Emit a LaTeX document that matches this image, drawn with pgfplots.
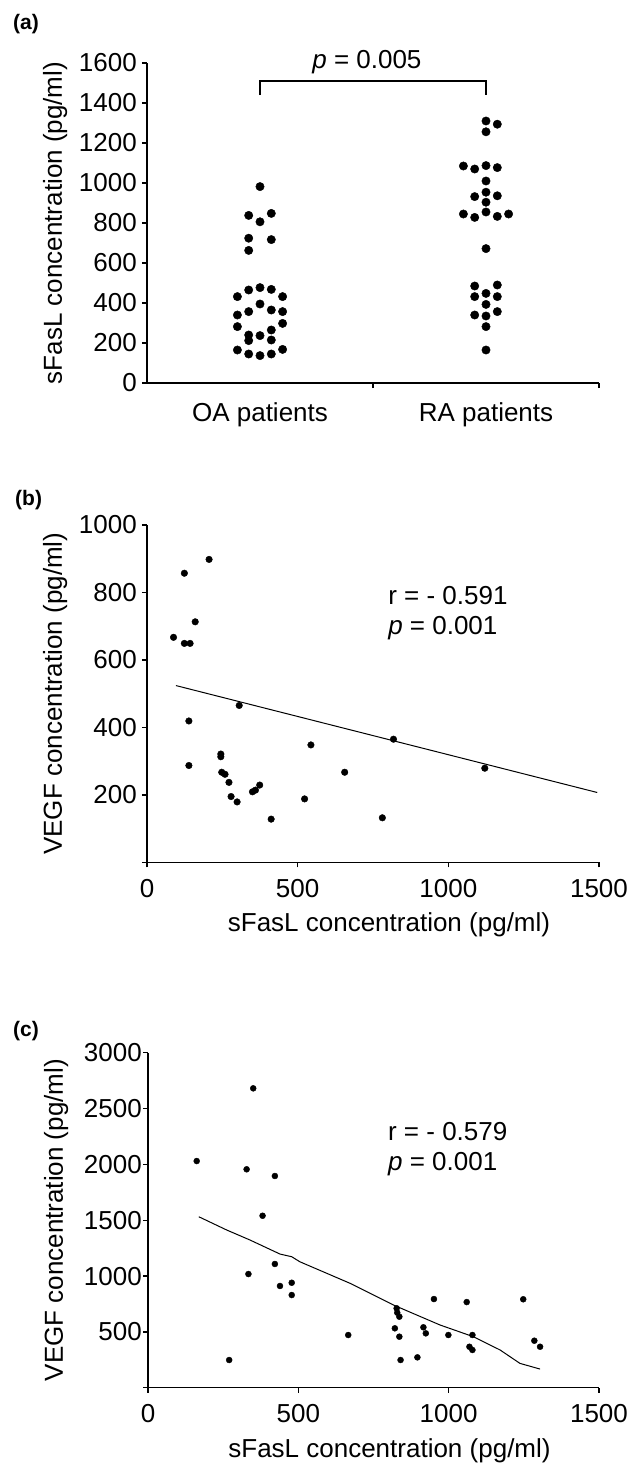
\documentclass[border=0pt]{standalone}
\usepackage{fontspec}
\setmainfont{Liberation Sans}
\usepackage{pgfplots}
\pgfplotsset{compat=1.18}
\newcommand{\lbl}{\fontsize{26}{30}\selectfont}
\begin{document}
\begin{tikzpicture}
\useasboundingbox (0pt,0pt) rectangle (634pt,-1464pt);
\pgfplotsset{
  panel/.style={
    scale only axis, anchor=south west,
    axis lines=left, axis line style={-, line width=1.4pt},
    tick align=outside, major tick length=5pt,
    tick style={line width=1.4pt, black},
    tick label style={font=\lbl},
    /pgf/number format/assume math mode=true,
    /pgf/number format/1000 sep={},
    scaled ticks=false, clip=false,
    xticklabel style={inner sep=0pt, anchor=base, yshift=-30pt},
    yticklabel style={inner sep=0pt, anchor=east, xshift=-5pt},
    every axis y label/.style={at={([xshift=-85pt]axis description cs:0,0.5)},
      rotate=90, anchor=base, font=\lbl},
    every axis x label/.style={at={([xshift=16pt,yshift=-69.4pt]axis description cs:0.5,0)},
      anchor=base, font=\lbl},
  },
  dots/.style={only marks, mark=*, mark size=#1, black},
}
\node[anchor=base west, inner sep=0, font=\bfseries\fontsize{21}{24}\selectfont] at (13pt,-30pt) {(a)};
\node[anchor=base west, inner sep=0, font=\bfseries\fontsize{21}{24}\selectfont] at (15pt,-505pt) {(b)};
\node[anchor=base west, inner sep=0, font=\bfseries\fontsize{21}{24}\selectfont] at (13pt,-1036pt) {(c)};

% (a) sFasL in OA and RA patients
\begin{axis}[panel, at={(147pt,-383pt)}, width=452pt, height=320pt,
  xmin=0, xmax=2, ymin=0, ymax=1600, ytick={0,200,...,1600},
  xtick={1,2}, xticklabels={},
  extra x ticks={0.5,1.5}, extra x tick labels={OA patients,RA patients},
  extra x tick style={major tick length=0pt, xticklabel style={yshift=-8pt}},
  ylabel={sFasL concentration (pg/ml)}]
\addplot[dots=4.2pt] coordinates {
  (0.50,982)
  (0.45,838) (0.55,848)
  (0.50,806)
  (0.45,724) (0.55,717)
  (0.45,663)
  (0.40,432) (0.45,465) (0.50,477) (0.55,468) (0.60,432)
  (0.50,395)
  (0.40,340) (0.45,357) (0.55,365) (0.60,357)
  (0.40,282) (0.60,298)
  (0.45,240) (0.55,265)
  (0.50,237)
  (0.45,212) (0.55,215)
  (0.40,165) (0.45,145) (0.50,137) (0.55,145) (0.60,168)
};
\addplot[dots=4.2pt] coordinates {
  (1.50,1310) (1.55,1294)
  (1.50,1256)
  (1.40,1085) (1.45,1070) (1.50,1087) (1.55,1077)
  (1.50,1010)
  (1.45,932) (1.50,954) (1.55,936)
  (1.50,904)
  (1.40,845) (1.45,828) (1.50,855) (1.55,833) (1.60,845)
  (1.50,672)
  (1.45,485) (1.55,490)
  (1.50,448)
  (1.45,432) (1.55,432)
  (1.50,393)
  (1.45,340) (1.50,335) (1.55,357)
  (1.50,282)
  (1.50,165)
};
\draw[line width=1.2pt] (axis cs:0.5,1440) |- (axis cs:1.5,1510) -- (axis cs:1.5,1440);
\node[anchor=base, inner sep=0, font=\lbl] at (axis cs:0.973,1575) {\textit{p} = 0.005};
\end{axis}

% (b) VEGF vs sFasL
\begin{axis}[panel, at={(147pt,-862.3pt)}, width=452pt, height=337.3pt,
  xmin=0, xmax=1500, ymin=0, ymax=1000,
  xtick={0,500,1000,1500},
  ytick={0,200,...,1000}, yticklabels={,200,400,600,800,1000},
  xlabel={sFasL concentration (pg/ml)},
  ylabel={VEGF concentration (pg/ml)}]
\addplot[dots=3.3pt] coordinates {
  (88,667) (124,857) (124,649) (143,649) (160,713) (206,898)
  (139,419) (139,287) (306,465) (245,321) (245,313) (248,267)
  (259,261) (272,237) (279,195) (299,179) (350,209) (360,214)
  (374,229) (412,128) (523,188) (544,348) (656,267) (781,132)
  (818,365) (1121,279)
};
\addplot[black, line width=1pt] coordinates {(96,524) (1494,207)};
\node[anchor=base west, inner sep=0, font=\lbl] at (axis cs:800,763) {r = - 0.591};
\node[anchor=base west, inner sep=0, font=\lbl] at (axis cs:800,674) {\textit{p} = 0.001};
\end{axis}

% (c) VEGF vs sFasL
\begin{axis}[panel, at={(148pt,-1387.7pt)}, width=451pt, height=335pt,
  xmin=0, xmax=1500, ymin=0, ymax=3000,
  xtick={0,500,1000,1500},
  ytick={0,500,...,3000}, yticklabels={,500,1000,1500,2000,2500,3000},
  yticklabel style={xshift=4pt},
  xlabel={sFasL concentration (pg/ml)},
  ylabel={VEGF concentration (pg/ml)}]
\addplot[dots=3pt] coordinates {
  (162,2030) (350,2681) (328,1956) (422,1896) (381,1540) (422,1108)
  (334,1018) (439,911) (478,940) (478,830) (270,248)
  (666,472) (827,711) (829,672) (836,636) (821,532) (836,457)
  (840,248) (896,272) (951,794) (1060,767) (916,541) (924,487)
  (999,472) (1079,472) (1069,367) (1079,338) (1248,792) (1285,421)
  (1304,367)
};
\addplot[black, line width=1pt] coordinates {
  (169,1531) (262,1412) (339,1323) (439,1197) (478,1173) (505,1128)
  (672,935) (816,741) (971,562) (1082,457) (1171,338) (1237,218) (1304,167)
};
\node[anchor=base west, inner sep=0, font=\lbl] at (axis cs:798,2218) {r = - 0.579};
\node[anchor=base west, inner sep=0, font=\lbl] at (axis cs:798,1943) {\textit{p} = 0.001};
\end{axis}
\end{tikzpicture}
\end{document}
